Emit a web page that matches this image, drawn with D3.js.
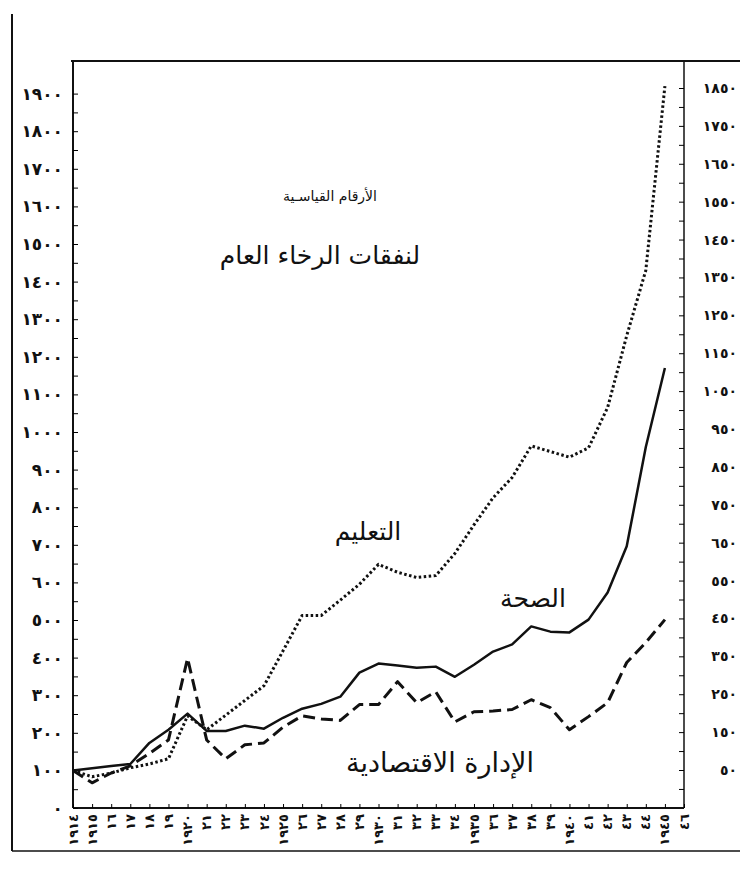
<!DOCTYPE html>
<html lang="ar">
<head>
<meta charset="utf-8">
<script src="https://cdn.jsdelivr.net/npm/d3@7"></script>
<style>
  html, body { margin: 0; padding: 0; background: #fff; }
  svg { display: block; }
  text { font-family: "DejaVu Sans", sans-serif; fill: #111; }
</style>
</head>
<body>
<svg id="chart" width="740" height="869"></svg>
<script>
// years plotted
var years = [1914, 1915, 1916, 1917, 1918, 1919, 1920, 1921, 1922, 1923, 1924,
             1925, 1926, 1927, 1928, 1929, 1930, 1931, 1932, 1933, 1934, 1935,
             1936, 1937, 1938, 1939, 1940, 1941, 1942, 1943, 1944, 1945];

// التعليم (dotted)
var education = [100, 83, 93, 107, 117, 131, 245, 208, 247, 286, 325,
                 418, 512, 512, 553, 595, 648, 627, 613, 618, 677, 753,
                 825, 879, 963, 948, 933, 958, 1065, 1256, 1430, 1920];

// الصحة (solid)
var health = [100, 106, 112, 117, 173, 208, 251, 205, 205, 219, 211,
              240, 264, 277, 296, 360, 384, 379, 373, 376, 349, 381,
              416, 435, 483, 469, 467, 501, 573, 696, 960, 1170];

// الإدارة الاقتصادية (dashed)
var economy = [100, 67, 93, 112, 145, 181, 398, 181, 131, 168, 173,
               215, 245, 237, 233, 275, 275, 336, 280, 309, 229, 256,
               258, 262, 288, 267, 208, 243, 280, 387, 440, 501];

// axis ticks
var leftTicks = [0, 100, 200, 300, 400, 500, 600, 700, 800, 900, 1000,
                 1100, 1200, 1300, 1400, 1500, 1600, 1700, 1800, 1900];
var rightTicks = [50, 150, 250, 350, 450, 550, 650, 750, 850, 950,
                  1050, 1150, 1250, 1350, 1450, 1550, 1650, 1750, 1850];
var yearTicks = [1914, 1915, 1916, 1917, 1918, 1919, 1920, 1921, 1922, 1923,
                 1924, 1925, 1926, 1927, 1928, 1929, 1930, 1931, 1932, 1933,
                 1934, 1935, 1936, 1937, 1938, 1939, 1940, 1941, 1942, 1943,
                 1944, 1945, 1946];

var digits = "٠١٢٣٤٥٦٧٨٩";
function toArabic(n) {
    return String(n).replace(/[0-9]/g, function(c) { return digits[+c]; });
}
function yearLabel(yr) {
    return (yr === 1914 || yr % 5 === 0) ? toArabic(yr) : toArabic(yr % 100);
}

var svg = d3.select("#chart");

var plotL = 73, plotR = 684, plotT = 61, plotB = 808;

var x = d3.scaleLinear().domain([1914, 1946]).range([plotL, plotR]);
var y = d3.scaleLinear().domain([0, 1900]).range([plotB, 93.6]);
var yR = d3.scaleLinear().domain([50, 1850]).range([770, 88]);

// frame
var frame = svg.append("g")
    .attr("stroke", "#111")
    .attr("fill", "none");
frame.append("line").attr("x1", 12).attr("y1", 14).attr("x2", 12).attr("y2", 851).attr("stroke-width", 2);
frame.append("line").attr("x1", 12).attr("y1", 851).attr("x2", 740).attr("y2", 851).attr("stroke-width", 1.5);
frame.append("line").attr("x1", plotL - 2).attr("y1", plotT).attr("x2", 740).attr("y2", plotT).attr("stroke-width", 2);
frame.append("line").attr("x1", plotL).attr("y1", plotT).attr("x2", plotL).attr("y2", plotB).attr("stroke-width", 2);
frame.append("line").attr("x1", plotR).attr("y1", plotT).attr("x2", plotR).attr("y2", plotB).attr("stroke-width", 1.5);
frame.append("line").attr("x1", plotL).attr("y1", plotB).attr("x2", plotR).attr("y2", plotB).attr("stroke-width", 2);

// left axis: minor ticks every 50
var leftMinor = d3.range(0, 1901, 50);
svg.append("g")
    .attr("transform", "translate(" + plotL + ",0)")
    .call(d3.axisRight(y).tickValues(leftMinor).tickSize(5).tickFormat(""))
    .call(function(g) { g.select(".domain").remove(); });

svg.append("g")
    .attr("transform", "translate(" + (plotL - 10) + ",0)")
    .call(d3.axisLeft(y).tickValues(leftTicks).tickSize(0).tickPadding(0).tickFormat(toArabic))
    .call(function(g) {
        g.select(".domain").remove();
        g.selectAll("text")
            .attr("font-family", "DejaVu Sans")
            .attr("font-size", 17)
            .attr("font-weight", "bold")
            .attr("fill", "#111")
            .attr("letter-spacing", 1);
    });

// right axis
var rightMinor = d3.range(0, 1876, 50);
svg.append("g")
    .attr("transform", "translate(" + plotR + ",0)")
    .call(d3.axisLeft(yR).tickValues(rightMinor).tickSize(5).tickFormat(""))
    .call(function(g) { g.select(".domain").remove(); });

svg.append("g")
    .attr("transform", "translate(737,0)")
    .call(d3.axisLeft(yR).tickValues(rightTicks).tickSize(0).tickPadding(0).tickFormat(toArabic))
    .call(function(g) {
        g.select(".domain").remove();
        g.selectAll("text")
            .attr("font-family", "DejaVu Sans")
            .attr("font-size", 14)
            .attr("font-weight", "bold")
            .attr("fill", "#111");
    });

// bottom axis
svg.append("g")
    .attr("transform", "translate(0," + plotB + ")")
    .call(d3.axisBottom(x).tickValues(yearTicks).tickSize(-4).tickFormat(""))
    .call(function(g) { g.select(".domain").remove(); });

svg.append("g").selectAll("text")
    .data(yearTicks)
    .enter().append("text")
    .attr("transform", function(d) { return "translate(" + x(d) + "," + (plotB + 6) + ") rotate(-90)"; })
    .attr("text-anchor", "end")
    .attr("dy", "0.35em")
    .attr("font-size", 13)
    .attr("font-weight", "bold")
    .text(yearLabel);

// lines
var line = d3.line()
    .x(function(d, i) { return x(years[i]); })
    .y(function(d) { return y(d); });

svg.append("path")
    .datum(economy)
    .attr("fill", "none")
    .attr("stroke", "#111")
    .attr("stroke-width", 3)
    .attr("stroke-dasharray", "12,6")
    .attr("stroke-linejoin", "round")
    .attr("d", line);

svg.append("path")
    .datum(health)
    .attr("fill", "none")
    .attr("stroke", "#111")
    .attr("stroke-width", 2.5)
    .attr("stroke-linejoin", "round")
    .attr("d", line);

svg.append("path")
    .datum(education)
    .attr("fill", "none")
    .attr("stroke", "#111")
    .attr("stroke-width", 3)
    .attr("stroke-dasharray", "2.5,2.5")
    .attr("stroke-linejoin", "round")
    .attr("d", line);

// titles and series names
svg.append("text")
    .attr("x", 330).attr("y", 201)
    .attr("text-anchor", "middle")
    .attr("font-size", 14)
    .attr("direction", "rtl")
    .text("الأرقام القياسـية");

svg.append("text")
    .attr("x", 320).attr("y", 264)
    .attr("text-anchor", "middle")
    .attr("font-size", 25)
    .attr("direction", "rtl")
    .text("لنفقات الرخاء العام");

svg.append("text")
    .attr("x", 368).attr("y", 540)
    .attr("text-anchor", "middle")
    .attr("font-size", 25)
    .attr("direction", "rtl")
    .text("التعليم");

svg.append("text")
    .attr("x", 533).attr("y", 607)
    .attr("text-anchor", "middle")
    .attr("font-size", 25)
    .attr("direction", "rtl")
    .text("الصحة");

svg.append("text")
    .attr("x", 440).attr("y", 772)
    .attr("text-anchor", "middle")
    .attr("font-size", 27)
    .attr("direction", "rtl")
    .text("الإدارة الاقتصادية");
</script>
</body>
</html>
